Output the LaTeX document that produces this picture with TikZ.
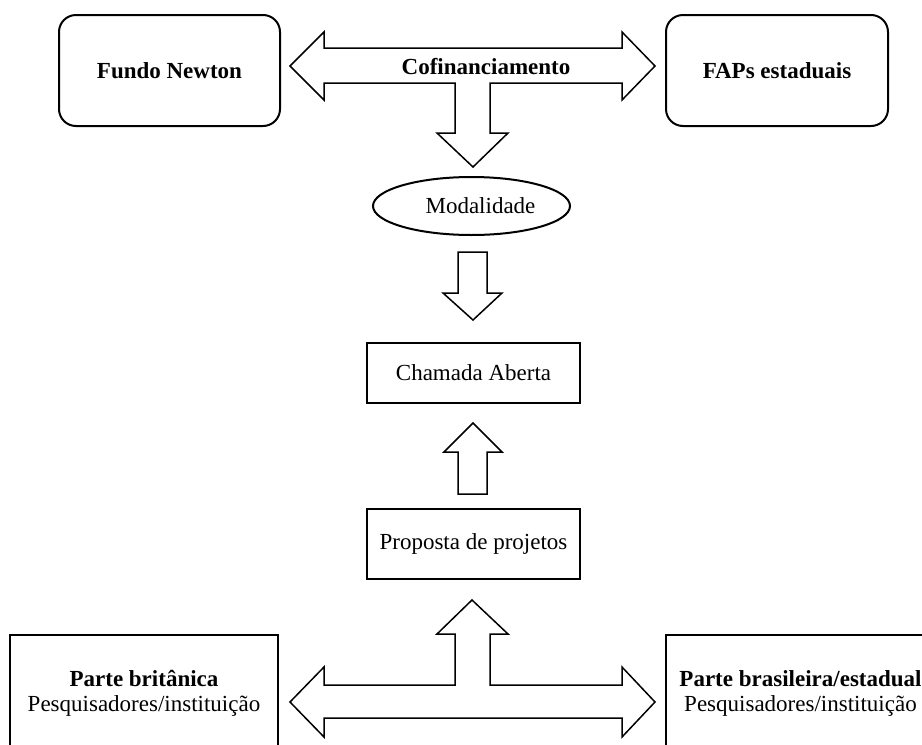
\documentclass[tikz,border=0pt]{standalone}
\usepackage{fontspec}
\setmainfont{Liberation Serif}
\usetikzlibrary{shapes.geometric}

\begin{document}
\begin{tikzpicture}[x=1pt,y=-1pt,
    every node/.style={font=\fontsize{23}{25}\selectfont},
    roundbox/.style={draw, line width=2pt, rounded corners=17pt, minimum height=111pt, font=\fontsize{23}{25}\selectfont\bfseries},
    plainbox/.style={draw, line width=2pt, align=center, minimum width=213pt},
    blockarrow/.style={draw, fill=white, line width=1.5pt, line join=miter}]
	\useasboundingbox (0,0) rectangle (922,745);
	\clip (0,0) rectangle (922,745);
	% arrows between the parts
	\filldraw[blockarrow] (290,66) -- (324,32) -- (324,48) -- (622,48) -- (622,32) -- (655,66) -- (622,100) -- (622,83) -- (490,83) -- (490,133) -- (508,133) -- (473,167) -- (437,133) -- (455,133) -- (455,83) -- (324,83) -- (324,100) -- cycle;
	\filldraw[blockarrow] (458,252) -- (487,252) -- (487,293) -- (502,293) -- (473,320) -- (443,293) -- (458,293) -- cycle;
	\filldraw[blockarrow] (458,494) -- (458,452) -- (444,452) -- (473,423) -- (502,452) -- (487,452) -- (487,494) -- cycle;
	\filldraw[blockarrow] (290,702) -- (324,667) -- (324,685) -- (455,685) -- (455,634) -- (437,634) -- (472,600) -- (508,634) -- (490,634) -- (490,685) -- (622,685) -- (622,667) -- (655,702) -- (622,737) -- (622,718) -- (324,718) -- (324,737) -- cycle;
	% boxes
	\node[roundbox, minimum width=221pt] (fundo) at (169.5,70.5) {Fundo Newton};
	\node[roundbox, minimum width=222pt] (faps) at (777,70.5) {FAPs estaduais};
	\node[font=\fontsize{23}{25}\selectfont\bfseries] (cofin) at (486,67) {Cofinanciamento};
	\node[draw, ellipse, line width=2pt, inner sep=0pt, minimum width=197pt, minimum height=58pt] (modal) at (471.5,206) {\hspace{18pt}Modalidade};
	\node[plainbox, minimum height=60pt] (chamada) at (473.5,373) {Chamada Aberta};
	\node[plainbox, minimum height=70pt] (proposta) at (473.5,544) {Proposta de projetos};
	\node[plainbox, minimum width=268pt, minimum height=116pt] (britanica) at (144,693) {\textbf{Parte britânica}\\Pesquisadores/instituição};
	\node[plainbox, minimum width=269pt, minimum height=116pt] (brasileira) at (800.5,693) {\textbf{Parte brasileira/estadual}\\Pesquisadores/instituição};
\end{tikzpicture}
\end{document}
